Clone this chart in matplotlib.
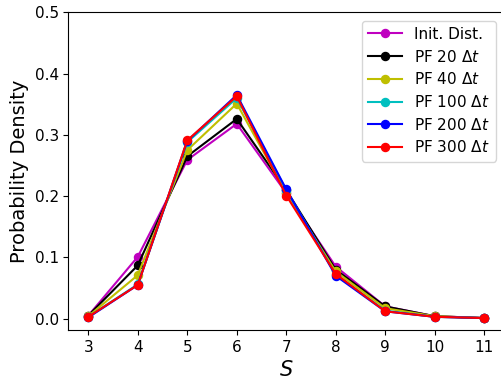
import matplotlib
matplotlib.use("Agg")
import matplotlib.pyplot as plt

s_values = [3, 4, 5, 6, 7, 8, 9, 10, 11]

init_dist = [0.005, 0.101, 0.259, 0.318, 0.205, 0.085, 0.020, 0.004, 0.001]
pf_20 = [0.005, 0.087, 0.265, 0.326, 0.210, 0.080, 0.020, 0.004, 0.001]
pf_40 = [0.004, 0.071, 0.275, 0.351, 0.205, 0.077, 0.017, 0.004, 0.001]
pf_100 = [0.003, 0.056, 0.288, 0.360, 0.210, 0.072, 0.013, 0.003, 0.001]
pf_200 = [0.002, 0.055, 0.290, 0.365, 0.211, 0.070, 0.012, 0.003, 0.001]
pf_300 = [0.003, 0.055, 0.291, 0.363, 0.201, 0.073, 0.012, 0.003, 0.001]

series = [
    ("Init. Dist.", init_dist, "m"),
    (r"PF 20 $\Delta t$", pf_20, "k"),
    (r"PF 40 $\Delta t$", pf_40, "y"),
    (r"PF 100 $\Delta t$", pf_100, "c"),
    (r"PF 200 $\Delta t$", pf_200, "b"),
    (r"PF 300 $\Delta t$", pf_300, "r"),
]

fig = plt.figure(figsize=(5.02, 3.79), dpi=100)
ax = fig.add_axes([68.5 / 502, 49 / 379, (504 - 68.5) / 502, (330 - 12.3) / 379])

for label, vals, color in series:
    ax.plot(s_values, vals, "o-", color=color, label=label, markersize=5.8, linewidth=1.5)

ax.set_xlim(2.6, 11.4)
ax.set_ylim(-0.0185, 0.5)
ax.set_xticks(s_values)
ax.set_yticks([0.0, 0.1, 0.2, 0.3, 0.4, 0.5])
ax.tick_params(labelsize=11)
ax.set_xlabel(r"$S$", fontsize=15)
ax.set_ylabel("Probability Density", fontsize=14)
ax.legend(loc="upper right", fontsize=11, bbox_to_anchor=(0.981, 0.9736),
          borderaxespad=0, handlelength=2.2, labelspacing=0.44)

fig.savefig("out.png", dpi=100)
